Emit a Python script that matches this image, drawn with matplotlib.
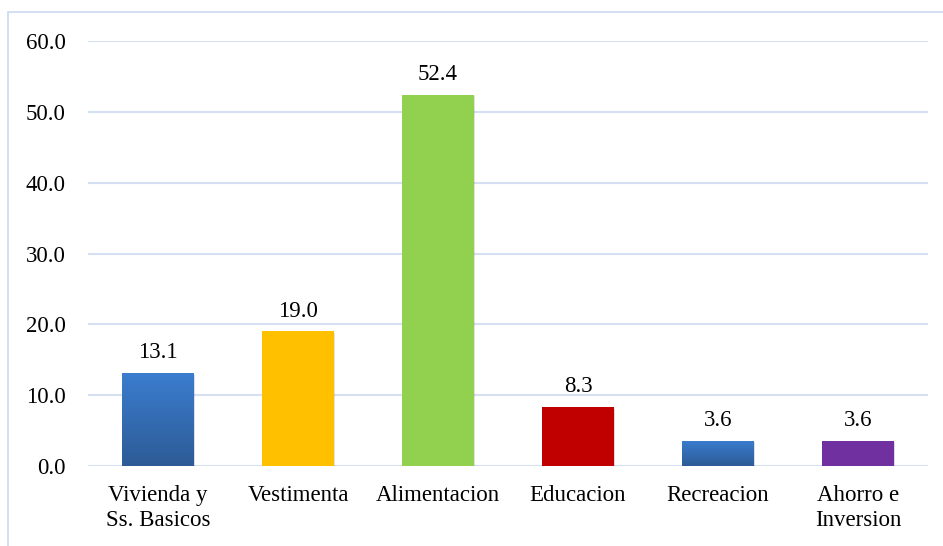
import numpy as np
import matplotlib.pyplot as plt
import matplotlib.patheffects as pe
from matplotlib.colors import LinearSegmentedColormap
from matplotlib.patches import Rectangle

categorias = ['Vivienda y\nSs. Basicos', 'Vestimenta', 'Alimentacion',
              'Educacion', 'Recreacion', 'Ahorro e\nInversion']
valores = [13.1, 19.0, 52.4, 8.3, 3.6, 3.6]
colores = ['#3a7bcb', '#FFC000', '#92D050', '#C00000', '#3a7bcb', '#7030A0']
degradado = [True, False, False, False, True, False]

plt.rcParams['font.family'] = ['Liberation Serif', 'DejaVu Serif']
fs = 16.5

fig = plt.figure(figsize=(9.43, 5.46), dpi=100)
# marco del grafico
fig.add_artist(Rectangle((8 / 943, -0.1), 1.0, 1.1 - 12 / 546, transform=fig.transFigure,
                         fill=False, edgecolor='#c9daf0', linewidth=1.2))
ax = fig.add_axes([88 / 943, 80 / 546, 840 / 943, 425 / 546])

ind = np.arange(len(valores))
width = 0.51
sombra = [pe.SimplePatchShadow(offset=(1, -1), alpha=0.15), pe.Normal()]
bars = ax.bar(ind, valores, width, color=colores, zorder=3, path_effects=sombra)

# degradado azul para algunas barras
cmap = LinearSegmentedColormap.from_list('azul', ['#2d5b96', '#3b7dcf'])
grad = np.linspace(0, 1, 256).reshape(-1, 1)
for b, g in zip(bars, degradado):
    if g:
        x0, y0 = b.get_x(), b.get_y()
        im = ax.imshow(grad, cmap=cmap, origin='lower', aspect='auto', zorder=4,
                       extent=(x0, x0 + b.get_width(), y0, y0 + b.get_height()))
        im.set_clip_path(b)

for i, v in enumerate(valores):
    ax.annotate(f'{v:.1f}', (i, v), xytext=(0, 7), textcoords='offset points',
                ha='center', va='bottom', fontsize=fs)

ax.set_xlim(-0.5, len(valores) - 0.5)
ax.set_ylim(0, 60)
ax.set_yticks(np.arange(0, 61, 10))
ax.set_yticklabels([f'{t:.1f}' for t in np.arange(0, 61, 10)], fontsize=fs)
ax.set_xticks(ind)
ax.set_xticklabels(categorias, fontsize=fs, linespacing=1.25)
ax.tick_params(length=0)
ax.tick_params(axis='y', pad=16)
ax.tick_params(axis='x', pad=14)
ax.yaxis.grid(True, color='#d5e1f2', linewidth=1.5, zorder=0)
for s in ax.spines.values():
    s.set_visible(False)

plt.savefig('out.png', dpi=100)
plt.close()
